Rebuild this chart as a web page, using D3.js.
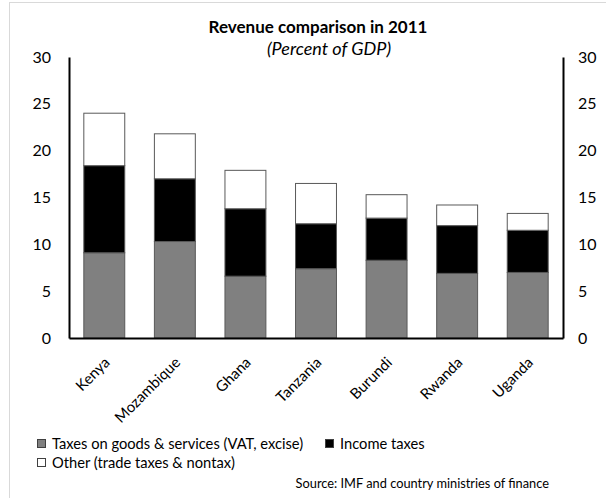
<!DOCTYPE html>
<html>
<head>
<meta charset="utf-8">
<script src="https://cdn.jsdelivr.net/npm/d3@7/dist/d3.min.js"></script>
<style>
  body { margin: 0; background: #fff; }
  text { font-family: Lato, "Open Sans", sans-serif; fill: #000; }
</style>
</head>
<body>
<div id="chart"></div>
<script>
// data (percent of GDP)
const countries = ["Kenya", "Mozambique", "Ghana", "Tanzania", "Burundi", "Rwanda", "Uganda"];
const goodsTaxes = [9.1, 10.3, 6.6, 7.4, 8.3, 6.9, 7.0];
const incomeTaxes = [9.3, 6.7, 7.2, 4.8, 4.5, 5.1, 4.5];
const otherRevenue = [5.6, 4.8, 4.1, 4.3, 2.5, 2.2, 1.8];
const yTicks = [0, 5, 10, 15, 20, 25, 30];
const seriesNames = ["Taxes on goods & services (VAT, excise)", "Income taxes", "Other (trade taxes & nontax)"];

const width = 606, height = 498;
const plotLeft = 69, plotRight = 563, plotTop = 57, plotBottom = 338;

const svg = d3.select("#chart").append("svg")
  .attr("width", width)
  .attr("height", height);

// outer frame
svg.append("rect")
  .attr("x", 9.5).attr("y", 2.5)
  .attr("width", 700).attr("height", 700)
  .attr("fill", "none")
  .attr("stroke", "#d9d9d9");

const rows = countries.map((c, i) => ({
  name: c, goods: goodsTaxes[i], income: incomeTaxes[i], other: otherRevenue[i]
}));
const keys = ["goods", "income", "other"];
const fills = { goods: "#808080", income: "#000000", other: "#ffffff" };

const x = d3.scaleBand()
  .domain(countries)
  .range([plotLeft, plotRight])
  .paddingInner(0.42)
  .paddingOuter(0.21);

const y = d3.scaleLinear()
  .domain([0, 30])
  .range([plotBottom, plotTop]);

const stacked = d3.stack().keys(keys)(rows);

// bars
svg.append("g").selectAll("g")
  .data(stacked)
  .enter().append("g")
  .attr("fill", d => fills[d.key])
  .selectAll("rect")
  .data(d => d)
  .enter().append("rect")
  .attr("x", d => x(d.data.name))
  .attr("y", d => y(d[1]))
  .attr("width", x.bandwidth())
  .attr("height", d => y(d[0]) - y(d[1]))
  .attr("stroke", "#595959")
  .attr("stroke-width", 1);

// left axis
const leftAxis = svg.append("g")
  .attr("transform", "translate(" + plotLeft + ",0)")
  .call(d3.axisLeft(y).tickValues(yTicks).tickSize(0).tickPadding(18));
leftAxis.select(".domain").attr("stroke", "#000").attr("stroke-width", 2);
leftAxis.selectAll("text").style("font-size", "16px");

// right axis
const rightAxis = svg.append("g")
  .attr("transform", "translate(" + plotRight + ",0)")
  .call(d3.axisRight(y).tickValues(yTicks).tickSize(0).tickPadding(15));
rightAxis.select(".domain").attr("stroke", "#000").attr("stroke-width", 2);
rightAxis.selectAll("text").style("font-size", "16px");

// bottom axis
const xAxis = svg.append("g")
  .attr("transform", "translate(0," + plotBottom + ")")
  .call(d3.axisBottom(x).tickSize(0).tickFormat(""));
xAxis.select(".domain").attr("stroke", "#000").attr("stroke-width", 2);

// category labels
svg.append("g").selectAll("text")
  .data(countries)
  .enter().append("text")
  .attr("transform", d => "translate(" + (x(d) + x.bandwidth() / 2 - 1) + "," + (plotBottom + 18) + ")rotate(-45)")
  .attr("text-anchor", "end")
  .attr("dy", "0.7em")
  .style("font-size", "15px")
  .text(d => d);

// title
svg.append("text")
  .attr("x", 318).attr("y", 33)
  .attr("text-anchor", "middle")
  .style("font-size", "17px")
  .style("font-weight", "bold")
  .text("Revenue comparison  in 2011");

svg.append("text")
  .attr("x", 329).attr("y", 55)
  .attr("text-anchor", "middle")
  .style("font-size", "18px")
  .style("font-style", "italic")
  .text("(Percent of GDP)");

// legend
const legendPos = [[37, 444], [325, 444], [37, 463]];
const legend = svg.append("g").selectAll("g")
  .data(keys)
  .enter().append("g")
  .attr("transform", (d, i) => "translate(" + legendPos[i][0] + "," + legendPos[i][1] + ")");
legend.append("rect")
  .attr("x", 0.5).attr("y", -4.5)
  .attr("width", 8).attr("height", 8)
  .attr("fill", d => fills[d])
  .attr("stroke", "#404040");
legend.append("text")
  .attr("x", 15).attr("y", 0)
  .attr("dy", "0.35em")
  .style("font-size", "14.7px")
  .text((d, i) => seriesNames[i]);

// source
svg.append("text")
  .attr("x", 549).attr("y", 488)
  .attr("text-anchor", "end")
  .style("font-size", "12.8px")
  .text("Source: IMF and country ministries of finance");
</script>
</body>
</html>
